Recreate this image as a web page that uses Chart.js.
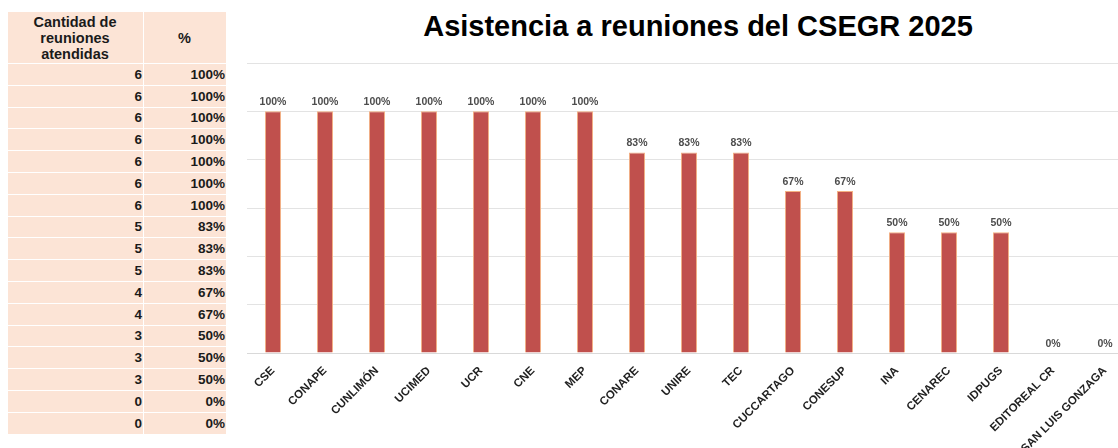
<!DOCTYPE html>
<html>
<head>
<meta charset="utf-8">
<script src="https://cdn.jsdelivr.net/npm/chart.js@4/dist/chart.umd.min.js"></script>
<style>
  html, body { margin: 0; padding: 0; background: #fff; }
  body { width: 1118px; height: 448px; overflow: hidden; position: relative; font-family: "Liberation Sans", Arial, sans-serif; }
  #tabla { position: absolute; left: 7px; top: 11px; width: 220px; border-collapse: collapse; background: #FCE4D6; font-weight: bold; font-size: 13.5px; color: #1a1a1a; }
  #tabla td, #tabla th { border: 1px solid #fff; padding: 0 1px 0 0; }
  #tabla th { height: 51px; line-height: 16px; text-align: center; font-weight: bold; font-size: 14.5px; }
  #tabla td { height: 20.8px; text-align: right; }
  #titulo { position: absolute; left: 398px; width: 600px; top: 10px; text-align: center; font-weight: bold; font-size: 29px; color: #000; }
  #wrap { position: absolute; left: 230px; top: 0; width: 902px; height: 448px; }
</style>
</head>
<body>
<table id="tabla">
  <thead><tr><th style="width:134px">Cantidad de<br>reuniones<br>atendidas</th><th>%</th></tr></thead>
  <tbody></tbody>
</table>
<div id="titulo">Asistencia a reuniones del CSEGR 2025</div>
<div id="wrap"><canvas id="barChart"></canvas></div>
<script>
const instituciones = ['CSE', 'CONAPE', 'CUNLIMÓN', 'UCIMED', 'UCR', 'CNE', 'MEP', 'CONARE', 'UNIRE', 'TEC',
  'CUCCARTAGO', 'CONESUP', 'INA', 'CENAREC', 'IDPUGS', 'EDITOREAL CR', 'SAN LUIS GONZAGA'];
const reunionesAtendidas = [6, 6, 6, 6, 6, 6, 6, 5, 5, 5, 4, 4, 3, 3, 3, 0, 0];
const porcentajes = [100, 100, 100, 100, 100, 100, 100, 83, 83, 83, 67, 67, 50, 50, 50, 0, 0];

// tabla de la izquierda
const tbody = document.querySelector('#tabla tbody');
reunionesAtendidas.forEach((n, i) => {
  const tr = document.createElement('tr');
  tr.innerHTML = '<td>' + n + '</td><td>' + porcentajes[i] + '%</td>';
  tbody.appendChild(tr);
});

// etiquetas encima de las barras
const etiquetas = {
  id: 'etiquetas',
  afterDatasetsDraw(chart) {
    const ctx = chart.ctx;
    const meta = chart.getDatasetMeta(0);
    ctx.save();
    ctx.font = 'bold 10.5px "Liberation Sans", Arial, sans-serif';
    ctx.fillStyle = '#4d4d4d';
    ctx.textAlign = 'center';
    ctx.textBaseline = 'bottom';
    meta.data.forEach((bar, i) => {
      ctx.fillText(porcentajes[i] + '%', bar.x, bar.y - 4);
    });
    ctx.restore();
  }
};

const ctx = document.getElementById('barChart').getContext('2d');
new Chart(ctx, {
  type: 'bar',
  data: {
    labels: instituciones,
    datasets: [{
      label: 'Asistencia',
      data: porcentajes,
      backgroundColor: '#C0504D',
      borderColor: '#F4B183',
      borderWidth: 1,
      barPercentage: 0.31,
      categoryPercentage: 1
    }]
  },
  options: {
    responsive: true,
    maintainAspectRatio: false,
    animation: false,
    layout: { padding: { left: 17, right: 1, top: 63, bottom: 0 } },
    plugins: {
      legend: { display: false },
      tooltip: { enabled: false }
    },
    scales: {
      x: {
        grid: { display: false },
        border: { display: true, color: '#D9D9D9' },
        ticks: {
          minRotation: 45,
          maxRotation: 45,
          padding: 3,
          color: '#1f1f1f',
          font: { family: '"Liberation Sans", Arial, sans-serif', size: 11.5, weight: 'bold' }
        },
        afterFit: s => { s.height = 95; }
      },
      y: {
        min: 0,
        max: 120,
        ticks: { stepSize: 20, display: false },
        grid: { color: '#E3E3E3', drawTicks: false },
        border: { display: false },
        afterFit: s => { s.width = 0; }
      }
    }
  },
  plugins: [etiquetas]
});
</script>
</body>
</html>
